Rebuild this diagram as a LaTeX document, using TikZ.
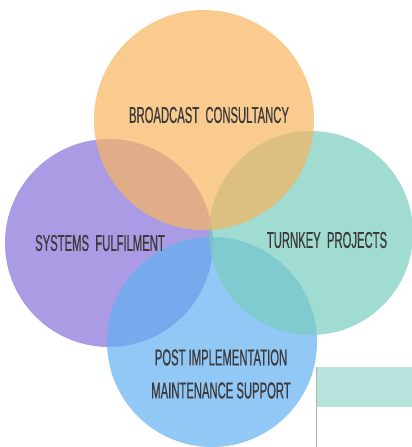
\documentclass[tikz,border=0pt]{standalone}
\usepackage{fontspec}
\newfontfamily\condfont[FakeStretch=0.49, FakeBold=0.6]{Liberation Sans}
\definecolor{consultorange}{RGB}{246,181,96}
\definecolor{fulfilpurple}{RGB}{134,112,216}
\definecolor{turnkeyteal}{RGB}{119,205,191}
\definecolor{supportblue}{RGB}{98,176,241}
\definecolor{labelgray}{RGB}{60,58,58}
\definecolor{bandteal}{RGB}{182,228,221}
\tikzset{
  bubble/.style={circle, draw=none, fill opacity=0.7, inner sep=0pt},
  bubbletext/.style={text=labelgray, font=\condfont\fontsize{23}{27}\selectfont, align=center, inner sep=0pt}
}
\begin{document}
\begin{tikzpicture}[x=1pt, y=-1pt]
\useasboundingbox (0,0) rectangle (412,447);
\node[bubble, fill=fulfilpurple, minimum size=208pt] (systems) at (109,243) {};
\node[bubble, fill=supportblue, minimum size=210pt] (support) at (212,342) {};
\node[bubble, fill=turnkeyteal, minimum size=204pt] (turnkey) at (311,233) {};
\node[bubble, fill=consultorange, minimum size=220pt] (consult) at (204,120) {};

\node[bubbletext] (consult_text) at (209,115) {BROADCAST\ \ CONSULTANCY};
\node[bubbletext] (systems_text) at (100,243) {SYSTEMS\ \ FULFILMENT};
\node[bubbletext] (turnkey_text) at (327,240) {TURNKEY\ \ PROJECTS};
\node[bubbletext] (support_text) at (221,374) {POST IMPLEMENTATION\\[6pt] MAINTENANCE SUPPORT};

% card cut off at the corner
\node[fill=bandteal, draw=none, minimum width=96pt, minimum height=40pt, inner sep=0pt, anchor=north west] (card_band) at (316,367) {};
\draw[gray!60, line width=1pt] (card_band.north west) -- (316,447);
\end{tikzpicture}
\end{document}
